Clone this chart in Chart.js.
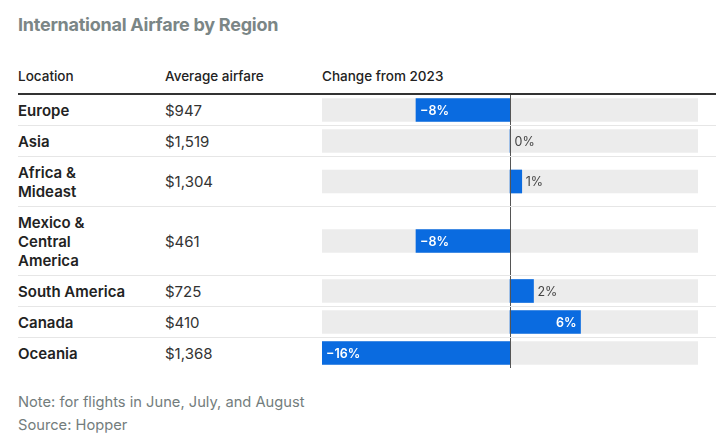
<!DOCTYPE html>
<html>
<head>
<meta charset="utf-8">
<script src="https://cdn.jsdelivr.net/npm/chart.js@4"></script>
<style>
    body { margin: 0; background: #fff; font-family: Inter, "Noto Sans", sans-serif; color: #222; }
    #wrap { position: relative; width: 723px; height: 442px; }
    h1 { position: absolute; left: 18px; top: 14px; margin: 0; font-size: 18px; font-weight: 700; color: #7b8686; letter-spacing: -0.25px; }
    #tabla { position: absolute; left: 18px; top: 66px; width: 698px; }
    .fila { display: grid; grid-template-columns: 147px 157px 376px 18px; }
    .cab { font-size: 13.5px; font-weight: 500; height: 25px; padding-top: 2px; border-bottom: 2px solid #333; }
    .dato { border-bottom: 1px solid #e6e6e6; }
    .dato:last-child { border-bottom: none; }
    .loc { font-size: 15px; font-weight: 600; line-height: 19px; padding: 6px 0 5px; white-space: pre-line; }
    .val { font-size: 15px; line-height: 19px; color: #333; display: flex; align-items: center; }
    .graf { position: relative; }
    .graf div { position: absolute; left: 0; top: 0; right: 0; bottom: 0; }
    #nota { position: absolute; left: 18px; top: 391px; font-size: 14.7px; line-height: 23px; color: #737d7d; }
</style>
</head>
<body>
<div id="wrap">
    <h1>International Airfare by Region</h1>
    <div id="tabla">
        <div class="fila cab"><div>Location</div><div>Average airfare</div><div>Change from 2023</div><div></div></div>
    </div>
    <div id="nota">Note: for flights in June, July, and August<br>Source: Hopper</div>
</div>
<script>
// data
const locations = ['Europe', 'Asia', 'Africa &\nMideast', 'Mexico &\nCentral\nAmerica', 'South America', 'Canada', 'Oceania'];
const airfares = [947, 1519, 1304, 461, 725, 410, 1368];
const changes = [-8, 0, 1, -8, 2, 6, -16];
const scaleMin = -16;
const scaleMax = 16;

const azul = '#0a6be0';
const gris = '#ececec';

// labels and zero line for each row
const etiquetas = {
    id: 'etiquetas',
    afterDatasetsDraw(chart) {
        const ctx = chart.ctx;
        const x = chart.scales.x;
        const cero = Math.round(x.getPixelForValue(0)) + 0.5;
        ctx.save();
        ctx.strokeStyle = '#555';
        ctx.lineWidth = 1;
        ctx.beginPath();
        ctx.moveTo(cero, 0);
        ctx.lineTo(cero, chart.height);
        ctx.stroke();

        const bar = chart.getDatasetMeta(0).data[0];
        const v = chart.data.datasets[0].data[0][1];
        const texto = (v < 0 ? '\u2212' + Math.abs(v) : v) + '%';
        ctx.textBaseline = 'middle';
        if (Math.abs(v) >= 5) {
            ctx.fillStyle = '#fff';
            ctx.font = '600 12.5px Inter';
            if (v < 0) {
                ctx.textAlign = 'left';
                ctx.fillText(texto, bar.x + 4, bar.y + 1);
            } else {
                ctx.textAlign = 'right';
                ctx.fillText(texto, bar.x - 4, bar.y + 1);
            }
        } else {
            ctx.fillStyle = '#444';
            ctx.font = '12.5px Inter';
            ctx.textAlign = 'left';
            ctx.fillText(texto, Math.max(bar.x, cero) + 4, bar.y + 1);
        }
        ctx.restore();
    }
};

const tabla = document.getElementById('tabla');

locations.forEach((loc, i) => {
    const fila = document.createElement('div');
    fila.className = 'fila dato';
    fila.innerHTML = '<div class="loc"></div><div class="val"></div><div class="graf"><div><canvas></canvas></div></div><div></div>';
    fila.querySelector('.loc').textContent = loc;
    fila.querySelector('.val').textContent = '$' + airfares[i].toLocaleString('en-US');
    tabla.appendChild(fila);

    new Chart(fila.querySelector('canvas'), {
        type: 'bar',
        data: {
            labels: [loc],
            datasets: [{
                data: [[0, changes[i]]],
                backgroundColor: azul,
                barThickness: 23,
                grouped: false
            }, {
                data: [[scaleMin, scaleMax]],
                backgroundColor: gris,
                barThickness: 23,
                grouped: false
            }]
        },
        options: {
            indexAxis: 'y',
            responsive: true,
            maintainAspectRatio: false,
            animation: false,
            events: [],
            layout: { padding: 0 },
            plugins: { legend: { display: false }, tooltip: { enabled: false } },
            scales: {
                x: { display: false, min: scaleMin, max: scaleMax },
                y: { display: false }
            }
        },
        plugins: [etiquetas]
    });
});
</script>
</body>
</html>
